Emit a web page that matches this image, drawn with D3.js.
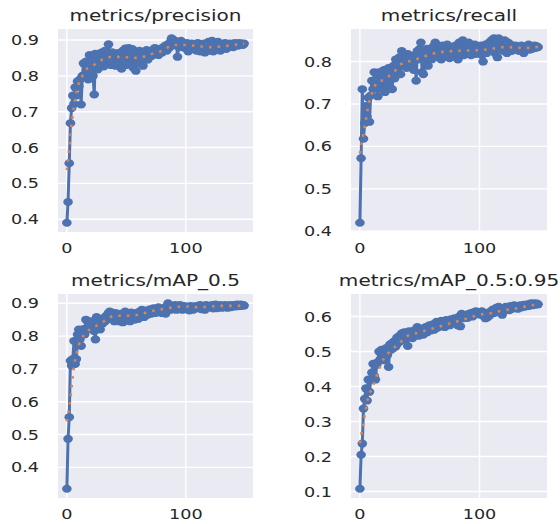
<!DOCTYPE html>
<html>
<head>
<meta charset="utf-8">
<script src="https://cdn.jsdelivr.net/npm/d3@7"></script>
<style>
  body { margin: 0; background: #fff; }
  svg text { font-family: "DejaVu Sans", sans-serif; fill: #262626; }
</style>
</head>
<body>
<div id="chart"></div>
<script>
// epochs 0..149
var precision = [
  0.390, 0.448, 0.556, 0.668, 0.710, 0.745, 0.722, 0.768, 0.745, 0.785,
  0.770, 0.790, 0.720, 0.800, 0.835, 0.800, 0.840, 0.815, 0.790, 0.858,
  0.830, 0.845, 0.800, 0.748, 0.862, 0.840, 0.818, 0.855, 0.830, 0.865,
  0.845, 0.826, 0.870, 0.840, 0.858, 0.888, 0.852, 0.830, 0.866, 0.845,
  0.858, 0.828, 0.850, 0.864, 0.836, 0.855, 0.820, 0.870, 0.848, 0.876,
  0.830, 0.860, 0.878, 0.836, 0.852, 0.875, 0.822, 0.865, 0.814, 0.858,
  0.840, 0.870, 0.835, 0.862, 0.828, 0.866, 0.850, 0.872, 0.845, 0.862,
  0.868, 0.855, 0.872, 0.860, 0.878, 0.862, 0.870, 0.858, 0.875, 0.868,
  0.865, 0.880, 0.872, 0.885, 0.870, 0.888, 0.878, 0.895, 0.905, 0.890,
  0.900, 0.885, 0.895, 0.853, 0.892, 0.880, 0.898, 0.885, 0.890, 0.878,
  0.888, 0.892, 0.868, 0.885, 0.880, 0.890, 0.875, 0.888, 0.882, 0.870,
  0.892, 0.880, 0.868, 0.888, 0.875, 0.890, 0.865, 0.885, 0.878, 0.895,
  0.870, 0.885, 0.898, 0.868, 0.890, 0.880, 0.872, 0.895, 0.885, 0.870,
  0.888, 0.878, 0.882, 0.892, 0.875, 0.886, 0.880, 0.890, 0.884, 0.888,
  0.880, 0.892, 0.886, 0.890, 0.884, 0.892, 0.888, 0.890, 0.886, 0.890
];
var recall = [
  0.420, 0.572, 0.735, 0.618, 0.655, 0.695, 0.670, 0.715, 0.658, 0.720,
  0.755, 0.735, 0.775, 0.740, 0.760, 0.718, 0.775, 0.745, 0.770, 0.735,
  0.780, 0.728, 0.765, 0.750, 0.785, 0.740, 0.770, 0.735, 0.790, 0.760,
  0.805, 0.775, 0.795, 0.810, 0.770, 0.825, 0.790, 0.815, 0.800, 0.785,
  0.818, 0.790, 0.812, 0.795, 0.800, 0.780, 0.815, 0.755, 0.825, 0.805,
  0.830, 0.845, 0.775, 0.770, 0.820, 0.800, 0.830, 0.790, 0.815, 0.825,
  0.805, 0.835, 0.815, 0.845, 0.820, 0.810, 0.832, 0.818, 0.805, 0.838,
  0.820, 0.830, 0.812, 0.840, 0.825, 0.808, 0.835, 0.820, 0.830, 0.812,
  0.838, 0.822, 0.805, 0.845, 0.828, 0.835, 0.850, 0.815, 0.830, 0.840,
  0.820, 0.845, 0.825, 0.815, 0.835, 0.828, 0.840, 0.818, 0.832, 0.825,
  0.830, 0.838, 0.815, 0.800, 0.825, 0.840, 0.820, 0.835, 0.845, 0.828,
  0.850, 0.838, 0.855, 0.820, 0.845, 0.810, 0.855, 0.830, 0.848, 0.840,
  0.825, 0.850, 0.835, 0.820, 0.845, 0.830, 0.840, 0.825, 0.835, 0.828,
  0.838, 0.830, 0.835, 0.825, 0.832, 0.838, 0.828, 0.820, 0.835, 0.830,
  0.832, 0.840, 0.828, 0.835, 0.830, 0.836, 0.838, 0.832, 0.836, 0.834
];
var map50 = [
  0.335, 0.487, 0.553, 0.725, 0.710, 0.730, 0.785, 0.715, 0.730, 0.805,
  0.820, 0.790, 0.770, 0.815, 0.822, 0.805, 0.850, 0.820, 0.840, 0.828,
  0.845, 0.820, 0.840, 0.815, 0.790, 0.858, 0.832, 0.845, 0.820, 0.850,
  0.838, 0.855, 0.845, 0.862, 0.850, 0.870, 0.875, 0.868, 0.872, 0.860,
  0.845, 0.870, 0.850, 0.862, 0.845, 0.868, 0.858, 0.842, 0.865, 0.875,
  0.850, 0.868, 0.855, 0.845, 0.872, 0.858, 0.865, 0.850, 0.870, 0.862,
  0.852, 0.875, 0.865, 0.880, 0.862, 0.858, 0.878, 0.870, 0.865, 0.875,
  0.882, 0.868, 0.875, 0.885, 0.870, 0.878, 0.872, 0.888, 0.875, 0.880,
  0.870, 0.885, 0.878, 0.868, 0.892, 0.900, 0.885, 0.880, 0.890, 0.882,
  0.888, 0.895, 0.880, 0.892, 0.885, 0.895, 0.888, 0.880, 0.892, 0.890,
  0.882, 0.890, 0.885, 0.878, 0.892, 0.886, 0.880, 0.890, 0.884, 0.892,
  0.885, 0.890, 0.895, 0.882, 0.888, 0.892, 0.880, 0.895, 0.886, 0.890,
  0.892, 0.888, 0.895, 0.884, 0.890, 0.896, 0.885, 0.892, 0.888, 0.895,
  0.886, 0.892, 0.888, 0.895, 0.890, 0.886, 0.892, 0.895, 0.888, 0.892,
  0.895, 0.890, 0.893, 0.896, 0.891, 0.894, 0.896, 0.892, 0.895, 0.893
];
var map5095 = [
  0.108, 0.205, 0.237, 0.337, 0.365, 0.395, 0.360, 0.420, 0.385, 0.418,
  0.440, 0.465, 0.430, 0.420, 0.462, 0.470, 0.500, 0.478, 0.505, 0.485,
  0.495, 0.475, 0.510, 0.490, 0.456, 0.520, 0.505, 0.525, 0.510, 0.530,
  0.515, 0.540, 0.525, 0.545, 0.530, 0.552, 0.540, 0.555, 0.535, 0.548,
  0.516, 0.558, 0.545, 0.550, 0.538, 0.560, 0.548, 0.555, 0.570, 0.545,
  0.560, 0.552, 0.565, 0.548, 0.558, 0.570, 0.555, 0.565, 0.575, 0.560,
  0.568, 0.578, 0.562, 0.575, 0.585, 0.568, 0.580, 0.572, 0.588, 0.575,
  0.582, 0.570, 0.590, 0.578, 0.585, 0.575, 0.592, 0.580, 0.588, 0.595,
  0.582, 0.590, 0.575, 0.600, 0.572, 0.608, 0.595, 0.605, 0.598, 0.602,
  0.596, 0.608, 0.602, 0.610, 0.600, 0.612, 0.605, 0.615, 0.608, 0.610,
  0.612, 0.605, 0.615, 0.608, 0.600, 0.595, 0.610, 0.598, 0.612, 0.605,
  0.615, 0.620, 0.610, 0.618, 0.625, 0.612, 0.628, 0.620, 0.615, 0.605,
  0.622, 0.618, 0.628, 0.620, 0.625, 0.618, 0.630, 0.622, 0.628, 0.632,
  0.625, 0.630, 0.622, 0.628, 0.632, 0.626, 0.630, 0.634, 0.628, 0.632,
  0.635, 0.630, 0.634, 0.638, 0.632, 0.636, 0.638, 0.634, 0.637, 0.635
];

// smoothed curve (orange dotted), read at these epochs
var smoothEpochs = [0, 1, 2, 3, 4, 5, 6, 8, 10, 12, 15, 20, 25, 30, 35, 40, 50, 60, 70, 80, 90, 100, 110, 120, 130, 140, 149];
var precisionSmooth = [0.537, 0.565, 0.600, 0.636, 0.668, 0.690, 0.715, 0.752, 0.778, 0.792, 0.814, 0.825, 0.835, 0.846, 0.852, 0.853, 0.852, 0.850, 0.860, 0.870, 0.886, 0.886, 0.883, 0.880, 0.882, 0.886, 0.890];
var recallSmooth    = [0.583, 0.600, 0.615, 0.632, 0.648, 0.663, 0.680, 0.708, 0.725, 0.740, 0.752, 0.757, 0.767, 0.780, 0.795, 0.800, 0.808, 0.818, 0.823, 0.825, 0.826, 0.827, 0.830, 0.834, 0.833, 0.832, 0.835];
var map50Smooth     = [0.540, 0.560, 0.582, 0.612, 0.645, 0.680, 0.710, 0.742, 0.772, 0.790, 0.806, 0.822, 0.832, 0.842, 0.855, 0.862, 0.862, 0.865, 0.875, 0.882, 0.888, 0.890, 0.888, 0.890, 0.892, 0.892, 0.893];
var map5095Smooth   = [0.238, 0.260, 0.280, 0.300, 0.318, 0.335, 0.355, 0.377, 0.396, 0.412, 0.440, 0.480, 0.500, 0.515, 0.530, 0.545, 0.555, 0.565, 0.575, 0.585, 0.595, 0.605, 0.610, 0.618, 0.623, 0.630, 0.635];

var titles = ["metrics/precision", "metrics/recall", "metrics/mAP_0.5", "metrics/mAP_0.5:0.95"];
var xTicks = [0, 100];
var yTicks = [
  [0.4, 0.5, 0.6, 0.7, 0.8, 0.9],
  [0.4, 0.5, 0.6, 0.7, 0.8],
  [0.4, 0.5, 0.6, 0.7, 0.8, 0.9],
  [0.1, 0.2, 0.3, 0.4, 0.5, 0.6]
];

var series = [precision, recall, map50, map5095];
var smooths = [precisionSmooth, recallSmooth, map50Smooth, map5095Smooth];

// the picture is stretched sideways, so text is too
var sx = 1.285;

var boxes = [
  {left: 58,  top: 29,  width: 195, height: 203},
  {left: 351, top: 29,  width: 196, height: 203},
  {left: 58,  top: 294, width: 195, height: 204},
  {left: 351, top: 294, width: 196, height: 204}
];

var svg = d3.select("#chart").append("svg")
    .attr("width", 560)
    .attr("height", 524);

series.forEach(function(vals, i) {
  var b = boxes[i];
  var n = vals.length;
  var xpad = (n - 1) * 0.05;
  var ext = d3.extent(vals), ypad = (ext[1] - ext[0]) * 0.05;

  var x = d3.scaleLinear().domain([-xpad, n - 1 + xpad]).range([0, b.width]);
  var y = d3.scaleLinear().domain([ext[0] - ypad, ext[1] + ypad]).range([b.height, 0]);

  var g = svg.append("g").attr("transform", "translate(" + b.left + "," + b.top + ")");

  g.append("rect")
      .attr("width", b.width)
      .attr("height", b.height)
      .attr("fill", "#eaeaf2");

  // grid
  g.selectAll(".gx").data(xTicks).enter().append("line")
      .attr("x1", function(d) { return x(d); })
      .attr("x2", function(d) { return x(d); })
      .attr("y1", 0).attr("y2", b.height)
      .attr("stroke", "#fff").attr("stroke-width", 1.4);
  g.selectAll(".gy").data(yTicks[i]).enter().append("line")
      .attr("x1", 0).attr("x2", b.width)
      .attr("y1", function(d) { return y(d); })
      .attr("y2", function(d) { return y(d); })
      .attr("stroke", "#fff").attr("stroke-width", 1.4);

  // tick labels
  g.selectAll(".ty").data(yTicks[i]).enter().append("text")
      .attr("transform", function(d) { return "translate(-19," + (y(d) + 5) + ") scale(" + sx + ",1)"; })
      .attr("text-anchor", "end")
      .style("font-size", "13.7px")
      .text(function(d) { return d3.format(".1f")(d); });
  g.selectAll(".tx").data(xTicks).enter().append("text")
      .attr("transform", function(d) { return "translate(" + x(d) + "," + (b.height + 21) + ") scale(" + sx + ",1)"; })
      .attr("text-anchor", "middle")
      .style("font-size", "13.7px")
      .text(function(d) { return d; });

  // title
  g.append("text")
      .attr("transform", "translate(" + (b.width / 2) + "," + (-8.5) + ") scale(" + sx + ",1)")
      .attr("text-anchor", "middle")
      .style("font-size", "15.6px")
      .text(titles[i]);

  var line = d3.line()
      .x(function(d, k) { return x(k); })
      .y(function(d) { return y(d); });

  g.append("path")
      .attr("d", line(vals))
      .attr("fill", "none")
      .attr("stroke", "#4c72b0")
      .attr("stroke-width", 3)
      .attr("stroke-linejoin", "round");

  g.selectAll(".pt").data(vals).enter().append("ellipse")
      .attr("cx", function(d, k) { return x(k); })
      .attr("cy", function(d) { return y(d); })
      .attr("rx", 4.8)
      .attr("ry", 4.0)
      .attr("fill", "#4c72b0");

  var smoothLine = d3.line()
      .curve(d3.curveMonotoneX)
      .x(function(d, k) { return x(smoothEpochs[k]); })
      .y(function(d) { return y(d); });

  g.append("path")
      .attr("d", smoothLine(smooths[i]))
      .attr("fill", "none")
      .attr("stroke", "#dd8452")
      .attr("stroke-width", 2.6)
      .attr("stroke-dasharray", "2.6,6");
});
</script>
</body>
</html>
